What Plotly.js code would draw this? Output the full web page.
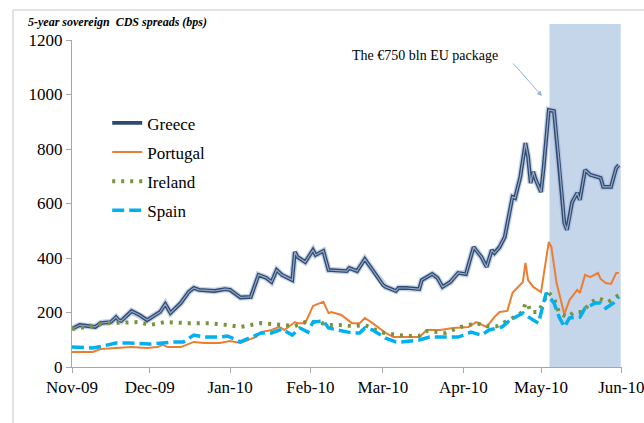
<!DOCTYPE html>
<html>
<head>
<meta charset="utf-8">
<script src="https://cdn.plot.ly/plotly-3.0.1.min.js"></script>
<style>html,body{margin:0;padding:0;background:#fff;}#chart{width:644px;height:423px;}</style>
</head>
<body>
<div id="chart"></div>
<script>
// Data (bps)
var greeceDates = ["2009-11-01","2009-11-04","2009-11-10","2009-11-12","2009-11-16","2009-11-18","2009-11-19","2009-11-20","2009-11-24","2009-11-27","2009-11-30","2009-12-03","2009-12-05","2009-12-07","2009-12-09","2009-12-13","2009-12-16","2009-12-18","2009-12-20","2009-12-26","2009-12-30","2010-01-01","2010-01-03","2010-01-05","2010-01-09","2010-01-12","2010-01-15","2010-01-17","2010-01-19","2010-01-21","2010-01-25","2010-01-26","2010-01-27","2010-01-30","2010-02-02","2010-02-03","2010-02-06","2010-02-08","2010-02-15","2010-02-16","2010-02-19","2010-02-22","2010-02-25","2010-03-01","2010-03-02","2010-03-06","2010-03-07","2010-03-10","2010-03-15","2010-03-16","2010-03-20","2010-03-22","2010-03-24","2010-03-27","2010-03-30","2010-04-02","2010-04-05","2010-04-08","2010-04-10","2010-04-12","2010-04-13","2010-04-15","2010-04-17","2010-04-20","2010-04-21","2010-04-22","2010-04-23","2010-04-25","2010-04-26","2010-04-27","2010-04-28","2010-04-29","2010-05-01","2010-05-02","2010-05-04","2010-05-06","2010-05-08","2010-05-10","2010-05-11","2010-05-12","2010-05-13","2010-05-15","2010-05-16","2010-05-18","2010-05-20","2010-05-23","2010-05-24","2010-05-25","2010-05-28","2010-05-30","2010-05-31"];
var greeceValues = [140,154,147,161,165,183,172,169,205,191,172,191,202,231,198,235,275,290,283,279,286,283,270,255,257,338,327,312,356,338,319,422,404,385,429,411,426,356,352,363,352,396,356,301,294,279,290,290,286,319,341,327,294,312,345,341,440,404,367,429,418,440,477,624,620,661,697,822,771,675,716,686,642,730,943,939,749,528,503,550,605,639,613,723,705,697,694,661,661,730,741];

var portugalDates = ["2009-11-01","2009-11-09","2009-11-12","2009-11-17","2009-11-24","2009-11-30","2009-12-04","2009-12-06","2009-12-08","2009-12-13","2009-12-18","2009-12-22","2009-12-28","2010-01-01","2010-01-03","2010-01-05","2010-01-09","2010-01-11","2010-01-13","2010-01-17","2010-01-20","2010-01-22","2010-01-26","2010-01-27","2010-01-30","2010-02-02","2010-02-03","2010-02-06","2010-02-08","2010-02-09","2010-02-13","2010-02-17","2010-02-20","2010-02-22","2010-02-25","2010-02-27","2010-03-02","2010-03-05","2010-03-09","2010-03-15","2010-03-18","2010-03-23","2010-03-28","2010-04-03","2010-04-06","2010-04-10","2010-04-13","2010-04-15","2010-04-18","2010-04-20","2010-04-24","2010-04-25","2010-04-26","2010-04-28","2010-05-01","2010-05-03","2010-05-04","2010-05-05","2010-05-07","2010-05-10","2010-05-12","2010-05-15","2010-05-16","2010-05-18","2010-05-20","2010-05-23","2010-05-24","2010-05-26","2010-05-28","2010-05-30","2010-05-31"];
var portugalValues = [55,55,66,70,73,70,73,81,73,73,92,88,88,95,92,88,103,110,128,136,147,136,165,161,161,224,228,239,198,202,191,161,161,180,161,147,125,110,110,110,136,136,143,147,165,147,183,202,206,272,312,382,319,294,275,404,459,440,308,194,246,283,272,338,330,345,323,308,305,345,345];

var irelandDates = ["2009-11-01","2009-11-07","2009-11-14","2009-11-21","2009-11-27","2009-12-01","2009-12-07","2009-12-16","2009-12-24","2009-12-31","2010-01-05","2010-01-13","2010-01-20","2010-01-26","2010-01-30","2010-02-04","2010-02-08","2010-02-12","2010-02-18","2010-02-22","2010-02-28","2010-03-04","2010-03-07","2010-03-11","2010-03-15","2010-03-18","2010-03-25","2010-03-31","2010-04-06","2010-04-10","2010-04-14","2010-04-20","2010-04-24","2010-04-25","2010-04-26","2010-04-27","2010-04-30","2010-05-03","2010-05-04","2010-05-06","2010-05-08","2010-05-11","2010-05-14","2010-05-17","2010-05-20","2010-05-23","2010-05-27","2010-05-31"];
var irelandValues = [140,147,161,165,165,154,165,161,161,154,147,161,154,150,165,165,154,154,150,154,128,121,117,114,114,132,125,147,161,150,150,180,202,235,228,202,202,257,272,253,198,183,202,202,235,253,239,264];

var spainDates = ["2009-11-01","2009-11-09","2009-11-13","2009-11-18","2009-11-23","2009-12-01","2009-12-06","2009-12-10","2009-12-14","2009-12-18","2009-12-22","2009-12-28","2009-12-31","2010-01-02","2010-01-05","2010-01-13","2010-01-17","2010-01-21","2010-01-25","2010-01-28","2010-01-31","2010-02-02","2010-02-06","2010-02-08","2010-02-11","2010-02-17","2010-02-20","2010-02-22","2010-02-25","2010-03-02","2010-03-06","2010-03-08","2010-03-15","2010-03-19","2010-03-24","2010-03-30","2010-04-04","2010-04-08","2010-04-11","2010-04-16","2010-04-19","2010-04-24","2010-04-28","2010-04-30","2010-05-03","2010-05-06","2010-05-08","2010-05-10","2010-05-12","2010-05-16","2010-05-18","2010-05-22","2010-05-24","2010-05-26","2010-05-29","2010-05-31"];
var spainValues = [73,70,77,88,88,84,88,92,92,117,110,110,114,105,92,125,125,139,117,143,128,165,169,143,136,125,125,143,136,106,92,92,99,110,110,110,128,117,136,147,172,198,172,161,272,235,183,147,180,183,216,235,235,216,235,257];

var seriesNames = ["Greece","Portugal","Ireland","Spain"];
var tickDates = ["2009-11-01","2009-12-01","2010-01-01","2010-02-01","2010-03-01","2010-04-01","2010-05-01","2010-06-01"];
var tickLabels = ["Nov-09","Dec-09","Jan-10","Feb-10","Mar-10","Apr-10","May-10","Jun-10"];
var yTicks = [0,200,400,600,800,1000,1200];
var packageStart = "2010-05-04 06:00";
var packageEnd = "2010-05-31 18:00";

var serif = "Liberation Serif";

var traces = [
  {x: greeceDates, y: greeceValues, type: "scatter", mode: "lines", name: seriesNames[0],
   legendgroup: "g", showlegend: false, hoverinfo: "skip",
   line: {color: "rgba(160,182,214,0.6)", width: 6.5}},
  {x: greeceDates, y: greeceValues, type: "scatter", mode: "lines", name: seriesNames[0],
   legendgroup: "g", showlegend: true,
   line: {color: "#2e4a73", width: 3.8}},
  {x: greeceDates, y: greeceValues, type: "scatter", mode: "lines", name: seriesNames[0],
   legendgroup: "g", showlegend: false, hoverinfo: "skip",
   line: {color: "#97a9c2", width: 1.2}},
  {x: portugalDates, y: portugalValues, type: "scatter", mode: "lines", name: seriesNames[1],
   legendgroup: "p", line: {color: "#ed7d31", width: 2}},
  {x: irelandDates, y: irelandValues, type: "scatter", mode: "lines", name: seriesNames[2],
   legendgroup: "i", line: {color: "#77933c", width: 4, dash: "3px,6px"}},
  {x: spainDates, y: spainValues, type: "scatter", mode: "lines", name: seriesNames[3],
   legendgroup: "s", line: {color: "#00b0f0", width: 3.5, dash: "12px,5px"}}
];

var layout = {
  width: 644, height: 423,
  margin: {l: 72, r: 22, t: 40, b: 56},
  paper_bgcolor: "#ffffff", plot_bgcolor: "#ffffff",
  font: {family: serif, size: 17, color: "#000000"},
  showlegend: true,
  legend: {x: 0.064, y: 0.8, xanchor: "left", yanchor: "top",
           bgcolor: "rgba(0,0,0,0)", font: {family: serif, size: 17, color: "#000"},
           traceorder: "grouped", tracegroupgap: 4, itemwidth: 30},
  xaxis: {type: "date", range: ["2009-11-01", "2010-06-01 06:00"],
          tickmode: "array", tickvals: tickDates, ticktext: tickLabels,
          showgrid: false, zeroline: false, showline: true, linecolor: "#a6a6a6", linewidth: 1,
          ticks: "outside", ticklen: 5, tickcolor: "#a6a6a6", ticklabeloverflow: "allow",
          tickfont: {family: serif, size: 17, color: "#000"}, automargin: false},
  yaxis: {range: [0, 1200], tickmode: "array", tickvals: yTicks,
          showgrid: false, zeroline: false, showline: true, linecolor: "#a6a6a6", linewidth: 1,
          ticks: "outside", ticklen: 5, tickcolor: "#a6a6a6",
          tickfont: {family: serif, size: 17, color: "#000"}, automargin: false},
  shapes: [
    {type: "rect", xref: "x", yref: "paper", x0: packageStart, x1: packageEnd, y0: 0, y1: 1.049,
     fillcolor: "#c5d5ea", line: {width: 0}, layer: "below"},
    {type: "line", xref: "paper", yref: "paper", x0: -0.1073, x1: 1.05, y0: 1.0917, y1: 1.0917,
     line: {color: "#d9d9d9", width: 1.5}},
    {type: "line", xref: "paper", yref: "paper", x0: -0.1073, x1: -0.1073, y0: 1.0917, y1: -0.2,
     line: {color: "#d9d9d9", width: 1.5}}
  ],
  annotations: [
    {xref: "paper", yref: "paper", x: -0.084, y: 1.056, xanchor: "left", yanchor: "middle",
     text: "<b><i>5-year sovereign  CDS spreads (bps)</i></b>", showarrow: false,
     font: {family: serif, size: 12, color: "#000"}},
    {xref: "paper", yref: "paper", x: 0.642, y: 0.954, xanchor: "center", yanchor: "middle",
     text: "The €750 bln EU package", showarrow: false,
     font: {family: serif, size: 14, color: "#000"}},
    {xref: "paper", yref: "paper", x: 0.8545, y: 0.8287, text: "", showarrow: true,
     ax: -30, ay: -34, arrowhead: 2, arrowsize: 1, arrowwidth: 1, arrowcolor: "#8db3e2", standoff: 0}
  ]
};

Plotly.newPlot("chart", traces, layout, {displayModeBar: false, staticPlot: true});
</script>
</body>
</html>
